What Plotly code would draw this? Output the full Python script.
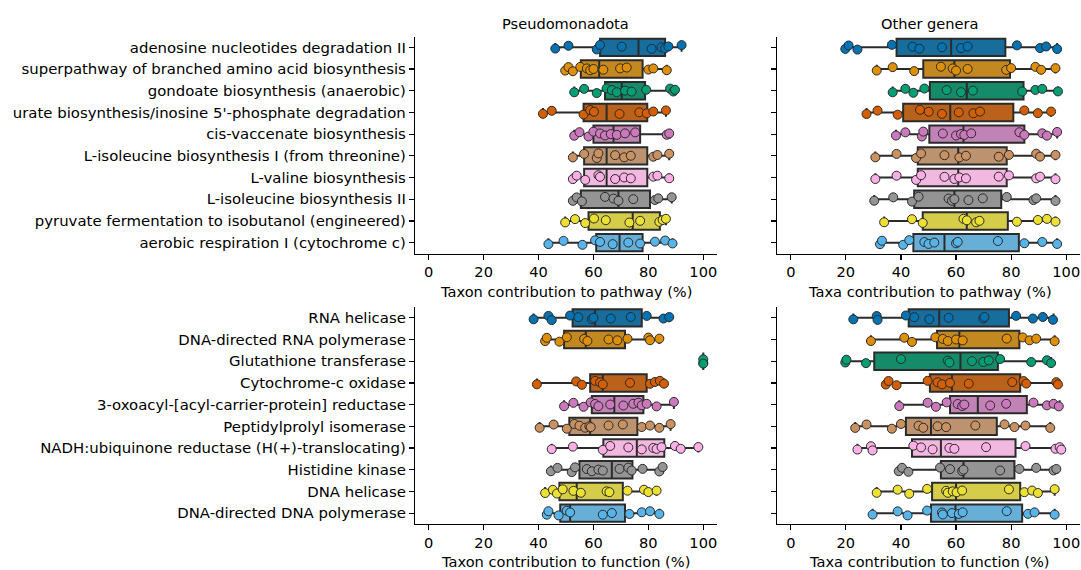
import plotly.graph_objects as go

pathways = [
    "adenosine nucleotides degradation II",
    "superpathway of branched amino acid biosynthesis",
    "gondoate biosynthesis (anaerobic)",
    "urate biosynthesis/inosine 5'-phosphate degradation",
    "cis-vaccenate biosynthesis",
    "L-isoleucine biosynthesis I (from threonine)",
    "L-valine biosynthesis",
    "L-isoleucine biosynthesis II",
    "pyruvate fermentation to isobutanol (engineered)",
    "aerobic respiration I (cytochrome c)",
]
functions = [
    "RNA helicase",
    "DNA-directed RNA polymerase",
    "Glutathione transferase",
    "Cytochrome-c oxidase",
    "3-oxoacyl-[acyl-carrier-protein] reductase",
    "Peptidylprolyl isomerase",
    "NADH:ubiquinone reductase (H(+)-translocating)",
    "Histidine kinase",
    "DNA helicase",
    "DNA-directed DNA polymerase",
]
point_colors = ["#0173B2", "#DE8F05", "#029E73", "#D55E00", "#CC78BC",
                "#CA9161", "#FBAFE4", "#949494", "#ECE133", "#56B4E9"]
box_colors = ["#176D9C", "#C38820", "#168B6A", "#BA611B", "#C183B6",
              "#BD926E", "#F1B8E0", "#949494", "#D5CD4A", "#68AFD7"]
x_ticks = [0, 20, 40, 60, 80, 100]

# ---- Pseudomonadota, pathways ----
tl_lo = [46.1, 49.7, 53.0, 41.6, 53.0, 52.5, 52.5, 52.5, 49.7, 43.6]
tl_q1 = [62.4, 55.4, 64.2, 56.4, 60.0, 56.6, 56.6, 55.4, 58.2, 61.0]
tl_med = [76.4, 62.1, 70.3, 64.8, 67.3, 64.8, 64.8, 69.1, 74.3, 69.5]
tl_q3 = [86.1, 77.9, 78.8, 79.6, 77.0, 79.6, 79.6, 80.6, 84.2, 77.9]
tl_hi = [92.1, 86.7, 89.7, 86.4, 87.9, 87.6, 87.6, 88.5, 86.4, 88.8]
tl_pts = [
    [46.1, 50.9, 61.2, 62.4, 70.3, 81.2, 84.8, 86.1, 87.3, 92.1],
    [49.7, 50.9, 52.5, 55.2, 57.6, 58.8, 60.0, 63.6, 69.7, 72.1, 80.0, 81.8, 86.7],
    [53.0, 56.6, 61.2, 64.8, 66.7, 68.5, 71.5, 73.9, 79.2, 87.9, 89.1, 89.7],
    [41.6, 44.8, 56.4, 58.8, 60.2, 69.5, 76.7, 79.4, 81.8, 86.4],
    [53.0, 54.9, 58.2, 60.0, 62.4, 64.2, 66.3, 68.5, 71.5, 75.2, 86.7, 87.6],
    [52.5, 56.6, 61.2, 61.8, 67.9, 71.2, 73.6, 81.8, 83.3, 87.6],
    [52.5, 53.9, 57.0, 61.8, 62.4, 67.9, 71.2, 73.6, 81.8, 83.3, 87.6],
    [52.5, 53.9, 55.8, 64.2, 67.3, 69.1, 74.5, 82.4, 83.6, 88.5],
    [49.7, 53.3, 57.0, 60.2, 64.5, 73.1, 77.0, 84.0, 85.2, 86.4],
    [43.6, 49.1, 56.0, 60.6, 62.4, 67.0, 72.7, 77.0, 82.4, 86.1, 88.8],
]

# ---- Other genera, pathways ----
tr_lo = [19.8, 31.2, 37.0, 27.5, 38.2, 30.7, 30.7, 30.3, 33.9, 32.4]
tr_q1 = [38.4, 48.1, 50.5, 40.8, 50.3, 46.1, 46.1, 44.8, 47.9, 44.5]
tr_med = [58.2, 59.4, 63.9, 57.9, 62.7, 60.8, 60.8, 59.4, 63.9, 55.8]
tr_q3 = [77.9, 79.6, 84.5, 80.8, 84.8, 78.4, 78.4, 76.4, 78.8, 82.8]
tr_hi = [96.7, 96.1, 97.0, 94.5, 96.7, 96.1, 96.1, 96.1, 96.1, 96.7]
tr_pts = [
    [19.8, 21.0, 24.2, 36.7, 44.2, 46.7, 54.9, 61.8, 64.2, 82.1, 90.5, 92.7, 96.7],
    [31.2, 37.0, 44.8, 54.5, 58.8, 60.0, 64.2, 78.2, 80.0, 88.8, 90.9, 96.1],
    [37.0, 41.6, 44.5, 48.5, 56.6, 61.8, 66.1, 84.0, 88.8, 91.3, 97.0],
    [27.5, 31.5, 38.8, 46.9, 50.1, 54.9, 61.0, 66.3, 68.7, 84.8, 89.7, 94.5],
    [38.2, 41.6, 47.6, 48.1, 55.2, 60.0, 61.8, 63.0, 65.5, 83.0, 84.8, 91.3, 93.0, 96.7],
    [30.7, 38.4, 45.5, 47.3, 55.8, 61.2, 63.6, 75.5, 79.2, 89.1, 90.5, 96.1],
    [30.7, 38.4, 45.5, 47.3, 55.8, 59.4, 61.2, 63.6, 75.5, 79.2, 89.1, 90.5, 96.1],
    [30.3, 37.2, 44.0, 46.4, 57.3, 58.5, 59.4, 64.5, 69.7, 78.4, 88.1, 89.1, 96.1],
    [33.9, 44.0, 47.9, 62.7, 63.9, 67.3, 68.5, 82.1, 89.7, 93.0, 96.1],
    [32.4, 33.1, 40.8, 43.0, 48.5, 50.0, 52.1, 60.0, 60.6, 75.2, 84.8, 91.3, 96.7],
]

# ---- Pseudomonadota, functions ----
bl_lo = [38.2, 42.4, 100.0, 39.4, 49.3, 40.4, 44.8, 44.5, 42.4, 43.0]
bl_q1 = [52.4, 49.3, 100.0, 58.8, 59.4, 51.2, 63.6, 54.9, 47.6, 47.9]
bl_med = [60.6, 57.2, 100.0, 63.4, 67.6, 58.8, 75.8, 66.7, 53.9, 51.5]
bl_q3 = [77.6, 71.5, 100.0, 79.4, 78.2, 76.0, 85.8, 74.2, 70.7, 71.5]
bl_hi = [87.6, 84.0, 100.0, 85.7, 89.3, 88.1, 98.2, 85.2, 83.0, 84.0]
bl_pts = [
    [38.2, 43.6, 44.8, 51.5, 54.5, 59.4, 60.0, 66.3, 73.6, 79.4, 85.5, 87.6],
    [42.4, 43.0, 47.6, 50.3, 56.6, 57.8, 65.5, 68.7, 72.4, 80.0, 80.6, 84.0],
    [100.0, 100.0, 100.0],
    [39.4, 53.7, 55.8, 60.6, 62.4, 63.4, 73.3, 80.6, 82.4, 84.2, 85.7],
    [49.3, 52.7, 56.4, 59.0, 60.6, 61.8, 66.1, 70.9, 74.5, 76.4, 77.6, 79.4, 83.0, 89.3],
    [40.4, 45.5, 50.3, 53.0, 54.9, 57.0, 58.5, 59.0, 65.5, 70.7, 77.6, 80.6, 84.0, 88.1],
    [44.8, 52.5, 63.4, 66.1, 72.7, 77.6, 81.8, 83.0, 84.8, 89.7, 91.8, 98.2],
    [44.5, 46.9, 52.1, 53.3, 57.6, 59.4, 61.8, 63.4, 69.5, 72.7, 73.9, 77.9, 84.0, 85.2],
    [42.4, 45.2, 46.7, 48.8, 52.7, 55.4, 64.8, 65.8, 72.4, 78.4, 80.0, 83.0],
    [43.0, 43.6, 47.3, 50.3, 51.5, 63.4, 66.7, 73.1, 77.6, 80.6, 84.0],
]

# ---- Other genera, functions ----
br_lo = [22.7, 29.1, 19.8, 34.5, 39.4, 23.4, 24.2, 39.2, 31.2, 29.7]
br_q1 = [42.8, 53.1, 30.3, 50.5, 57.8, 41.8, 44.0, 54.5, 51.3, 50.9]
br_med = [53.9, 61.2, 61.6, 58.5, 67.9, 50.9, 54.5, 62.7, 60.0, 59.8]
br_q3 = [79.2, 83.0, 75.2, 83.3, 85.7, 74.8, 81.6, 81.2, 83.3, 84.0]
br_hi = [95.4, 95.8, 94.5, 97.0, 97.6, 94.2, 98.2, 96.6, 95.8, 95.8]
br_pts = [
    [22.7, 31.2, 31.5, 41.8, 44.8, 50.3, 57.3, 69.9, 70.3, 81.8, 87.9, 91.5, 95.2],
    [29.1, 41.2, 44.0, 52.5, 55.2, 57.0, 60.0, 62.4, 78.4, 84.2, 86.7, 89.1, 95.8],
    [19.8, 20.2, 27.3, 40.0, 57.0, 57.6, 65.8, 69.9, 71.9, 76.0, 87.3, 93.0, 94.5],
    [34.5, 35.5, 38.4, 49.7, 53.3, 54.9, 57.8, 64.6, 80.4, 84.5, 85.5, 96.4, 97.0],
    [39.4, 49.7, 52.7, 56.6, 60.6, 62.2, 63.0, 72.4, 78.2, 88.1, 93.0, 95.4, 97.3],
    [23.4, 27.5, 36.7, 40.0, 46.4, 48.1, 53.3, 56.4, 67.0, 77.6, 81.2, 85.2, 94.2],
    [24.2, 29.1, 29.7, 44.5, 47.3, 51.5, 57.6, 59.4, 70.9, 85.2, 96.1, 97.6, 98.2],
    [39.2, 40.4, 42.7, 54.2, 57.8, 62.2, 62.7, 76.0, 83.0, 89.1, 95.4, 96.4],
    [31.2, 38.8, 43.0, 49.5, 56.4, 57.0, 58.8, 60.2, 62.2, 79.2, 84.8, 87.6, 89.7, 95.8],
    [29.7, 38.8, 42.4, 49.5, 54.9, 55.2, 58.5, 61.0, 62.4, 78.4, 86.1, 88.5, 95.8],
]

W, H = 1081, 570
FONT = "DejaVu Sans"
EDGE = "#2b2b2b"
LABEL_SIZE = 14.9
TEXT_SIZE = 14.6

panels = [
    dict(ax="1", lo=tl_lo, q1=tl_q1, med=tl_med, q3=tl_q3, hi=tl_hi, pts=tl_pts),
    dict(ax="2", lo=tr_lo, q1=tr_q1, med=tr_med, q3=tr_q3, hi=tr_hi, pts=tr_pts),
    dict(ax="3", lo=bl_lo, q1=bl_q1, med=bl_med, q3=bl_q3, hi=bl_hi, pts=bl_pts),
    dict(ax="4", lo=br_lo, q1=br_q1, med=br_med, q3=br_q3, hi=br_hi, pts=br_pts),
]

fig = go.Figure()
for p in panels:
    xa = "x" if p["ax"] == "1" else "x" + p["ax"]
    ya = "y" if p["ax"] == "1" else "y" + p["ax"]
    for i in range(10):
        fig.add_trace(go.Box(
            y=[i], q1=[p["q1"][i]], median=[p["med"][i]], q3=[p["q3"][i]],
            lowerfence=[p["lo"][i]], upperfence=[p["hi"][i]],
            orientation="h", width=0.8, whiskerwidth=0.5,
            fillcolor=box_colors[i], line=dict(color=EDGE, width=2),
            boxpoints=False, showlegend=False, hoverinfo="skip",
            xaxis=xa, yaxis=ya,
        ))
        pts = p["pts"][i]
        fig.add_trace(go.Box(
            x=pts, y=[i] * len(pts), orientation="h", width=0.8,
            boxpoints="all", jitter=0.35, pointpos=0, whiskerwidth=0,
            fillcolor="rgba(0,0,0,0)", line=dict(color="rgba(0,0,0,0)", width=0),
            marker=dict(color=point_colors[i], size=9, opacity=1,
                        line=dict(color=EDGE, width=1)),
            showlegend=False, hoverinfo="skip",
            xaxis=xa, yaxis=ya,
        ))

xl = [415 / W, 717 / W]
xr = [777 / W, 1080 / W]
yt = [1 - 253.5 / H, 1 - 36.5 / H]
yb = [1 - 524 / H, 1 - 307 / H]

def xax(dom, anchor):
    return dict(domain=dom, anchor=anchor, range=[-5, 105], tickvals=x_ticks,
                showline=True, linecolor="black", linewidth=1.2, ticks="outside",
                ticklen=5, tickwidth=1.2, tickcolor="black", showgrid=False,
                zeroline=False, tickfont=dict(family=FONT, size=TEXT_SIZE, color="black"))

def yax(dom, anchor, labels):
    d = dict(domain=dom, anchor=anchor, range=[9.5, -0.5], tickvals=list(range(10)),
             showline=True, linecolor="black", linewidth=1.2, ticks="outside",
             ticklen=5, tickwidth=1.2, tickcolor="black", showgrid=False,
             zeroline=False, tickfont=dict(family=FONT, size=LABEL_SIZE, color="black"))
    if labels is None:
        d["showticklabels"] = False
    else:
        d["ticktext"] = labels
    return d

fig.update_layout(
    width=W, height=H, margin=dict(l=0, r=0, t=0, b=0),
    paper_bgcolor="white", plot_bgcolor="white",
    boxmode="overlay", showlegend=False,
    font=dict(family=FONT, size=TEXT_SIZE, color="black"),
    xaxis=xax(xl, "y"), yaxis=yax(yt, "x", pathways),
    xaxis2=xax(xr, "y2"), yaxis2=yax(yt, "x2", None),
    xaxis3=xax(xl, "y3"), yaxis3=yax(yb, "x3", functions),
    xaxis4=xax(xr, "y4"), yaxis4=yax(yb, "x4", None),
)

def ann(text, xc, ypx):
    fig.add_annotation(text=text, x=xc, y=1 - ypx / H, xref="paper", yref="paper",
                       xanchor="center", yanchor="middle", showarrow=False,
                       font=dict(family=FONT, size=TEXT_SIZE, color="black"))

cl = (428 + 703) / 2 / W
cr = (792 + 1067) / 2 / W
ann("Pseudomonadota", cl, 23)
ann("Other genera", cr, 23)
ann("Taxon contribution to pathway (%)", cl, 291)
ann("Taxa contribution to pathway (%)", cr, 291)
ann("Taxon contribution to function (%)", cl, 561)
ann("Taxa contribution to function (%)", cr, 561)

fig.write_html(
    "out.html",
    config={"displayModeBar": False, "staticPlot": True},
    post_script="document.body.style.margin='0';document.body.style.overflow='hidden';",
)
